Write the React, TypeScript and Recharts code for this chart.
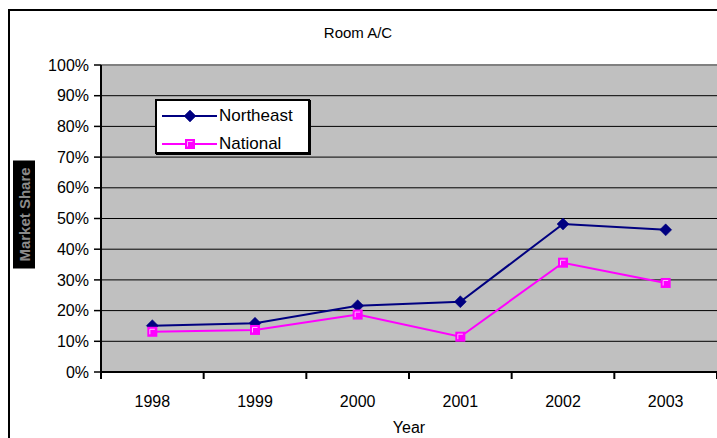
import React from 'react';
import { LineChart, Line, XAxis, YAxis, CartesianGrid, Legend, ReferenceLine } from 'recharts';

const years = ['1998', '1999', '2000', '2001', '2002', '2003'];
const northeast = [0.151, 0.159, 0.216, 0.229, 0.482, 0.463];
const national = [0.131, 0.137, 0.187, 0.115, 0.356, 0.29];
const yTicks = [0, 0.1, 0.2, 0.3, 0.4, 0.5, 0.6, 0.7, 0.8, 0.9, 1];
const seriesNames = ['Northeast', 'National'];
const titleText = 'Room A/C';
const xTitle = 'Year';
const yTitle = 'Market Share';

const NAVY = '#000080';
const MAGENTA = '#FF00FF';
const FONT = '"Liberation Sans", Arial, sans-serif';

const data = years.map((y, i) => ({ year: y, northeast: northeast[i], national: national[i] }));

const Diamond = (props: any) => {
  const { cx, cy } = props;
  if (cx == null || cy == null) return null;
  const r = 6;
  return (
    <path
      d={`M${cx},${cy - r} L${cx + r},${cy} L${cx},${cy + r} L${cx - r},${cy} Z`}
      fill={NAVY}
      stroke={NAVY}
      strokeWidth={0.5}
    />
  );
};

const Square = (props: any) => {
  const { cx, cy } = props;
  if (cx == null || cy == null) return null;
  const h = 5;
  return (
    <g>
      <rect x={cx - h} y={cy - h} width={2 * h} height={2 * h} fill={MAGENTA} />
      <path d={`M${cx - 2.5},${cy + 2.5} V${cy - 2.5} H${cx + 2.5}`} fill="none" stroke="#FFB8FF" strokeWidth={1} />
    </g>
  );
};

const XTick = (props: any) => {
  const { x, y, payload, index, visibleTicksCount, width } = props;
  const n = visibleTicksCount || years.length;
  const bw = (typeof width === 'number' ? width : 616) / n;
  return (
    <g>
      <line x1={x - bw / 2} x2={x - bw / 2} y1={y} y2={y + 7} stroke="#000" strokeWidth={2} />
      {index === n - 1 && <line x1={x + bw / 2} x2={x + bw / 2} y1={y} y2={y + 7} stroke="#000" strokeWidth={2} />}
      <text x={x} y={y + 35} textAnchor="middle" fontSize={16} fill="#000" fontFamily={FONT}>
        {payload.value}
      </text>
    </g>
  );
};

const YLabel = (props: any) => {
  const vb = props.viewBox || { x: 0, y: 65, width: 101, height: 307 };
  const cx = vb.x + 24;
  const cy = vb.y + vb.height / 2 - 4;
  return (
    <g>
      <rect x={cx - 11} y={cy - 54} width={22} height={108} fill="#000" />
      <text
        x={cx}
        y={cy}
        transform={`rotate(-90 ${cx} ${cy})`}
        textAnchor="middle"
        dominantBaseline="central"
        fontSize={15}
        fontWeight="bold"
        fill="#8a8a8a"
        fontFamily={FONT}
      >
        {yTitle}
      </text>
    </g>
  );
};

const XLabel = (props: any) => {
  const vb = props.viewBox || { x: 101, y: 372, width: 616, height: 66 };
  return (
    <text x={vb.x + vb.width / 2} y={vb.y + 61} textAnchor="middle" fontSize={16} fill="#000" fontFamily={FONT}>
      {xTitle}
    </text>
  );
};

const LegendContent = () => (
  <div
    style={{
      position: 'relative',
      width: 151,
      height: 51,
      border: '2px solid #000',
      boxShadow: '1px 1px 0 #000',
      background: '#fff',
      fontFamily: FONT,
      fontSize: 17,
      color: '#000',
    }}
  >
    {seriesNames.map((name, i) => (
      <div key={name} style={{ position: 'absolute', left: 0, top: 4 + i * 28, height: 22, width: 151 }}>
        <svg width={62} height={22} style={{ position: 'absolute', left: 0, top: 0 }}>
          <line x1={5} x2={60} y1={11} y2={11} stroke={i === 0 ? NAVY : MAGENTA} strokeWidth={2} />
          {i === 0 ? <Diamond cx={33} cy={11} /> : <Square cx={33} cy={11} />}
        </svg>
        <span style={{ position: 'absolute', left: 62, top: 1, lineHeight: '20px', whiteSpace: 'nowrap' }}>{name}</span>
      </div>
    ))}
  </div>
);

export default function App() {
  return (
    <div style={{ position: 'absolute', left: 0, top: 0, width: 717, height: 438, background: '#fff', overflow: 'hidden' }}>
      <div
        style={{
          position: 'absolute',
          left: 8,
          top: 9,
          width: 709,
          height: 429,
          borderLeft: '2px solid #000',
          borderTop: '2px solid #000',
          boxSizing: 'border-box',
        }}
      />
      <div
        style={{
          position: 'absolute',
          left: 358,
          top: 24,
          transform: 'translateX(-50%)',
          fontFamily: FONT,
          fontSize: 15,
          lineHeight: '18px',
          whiteSpace: 'nowrap',
          color: '#000',
        }}
      >
        {titleText}
      </div>
      <div style={{ position: 'absolute', left: 0, top: 0 }}>
        <LineChart width={717} height={438} data={data} margin={{ top: 65, right: 0, bottom: 0, left: 0 }}>
          <CartesianGrid vertical={false} stroke="#000" strokeWidth={1} fill="#C0C0C0" fillOpacity={1} />
          <ReferenceLine y={1} stroke="#808080" strokeWidth={2} ifOverflow="visible" />
          <XAxis
            dataKey="year"
            scale="band"
            height={66}
            tickLine={false}
            tickSize={0}
            tickMargin={0}
            axisLine={{ stroke: '#000', strokeWidth: 2 }}
            tick={<XTick />}
            interval={0}
            label={<XLabel />}
          />
          <YAxis
            width={101}
            domain={[0, 1]}
            ticks={yTicks}
            interval={0}
            tickFormatter={(v: number) => `${Math.round(v * 100)}%`}
            axisLine={{ stroke: '#000', strokeWidth: 2 }}
            tickLine={{ stroke: '#000', strokeWidth: 1.5 }}
            tickSize={7}
            tickMargin={5}
            tick={{ fontSize: 16, fill: '#000', fontFamily: FONT }}
            label={<YLabel />}
          />
          <Legend
            layout="vertical"
            align="center"
            verticalAlign="middle"
            content={<LegendContent />}
            wrapperStyle={{ position: 'absolute', left: 155, top: 99, width: 155, height: 55 }}
          />
          <Line
            type="linear"
            dataKey="northeast"
            name={seriesNames[0]}
            stroke={NAVY}
            strokeWidth={2}
            dot={<Diamond />}
            activeDot={false}
            isAnimationActive={false}
          />
          <Line
            type="linear"
            dataKey="national"
            name={seriesNames[1]}
            stroke={MAGENTA}
            strokeWidth={2}
            dot={<Square />}
            activeDot={false}
            isAnimationActive={false}
          />
        </LineChart>
      </div>
    </div>
  );
}
